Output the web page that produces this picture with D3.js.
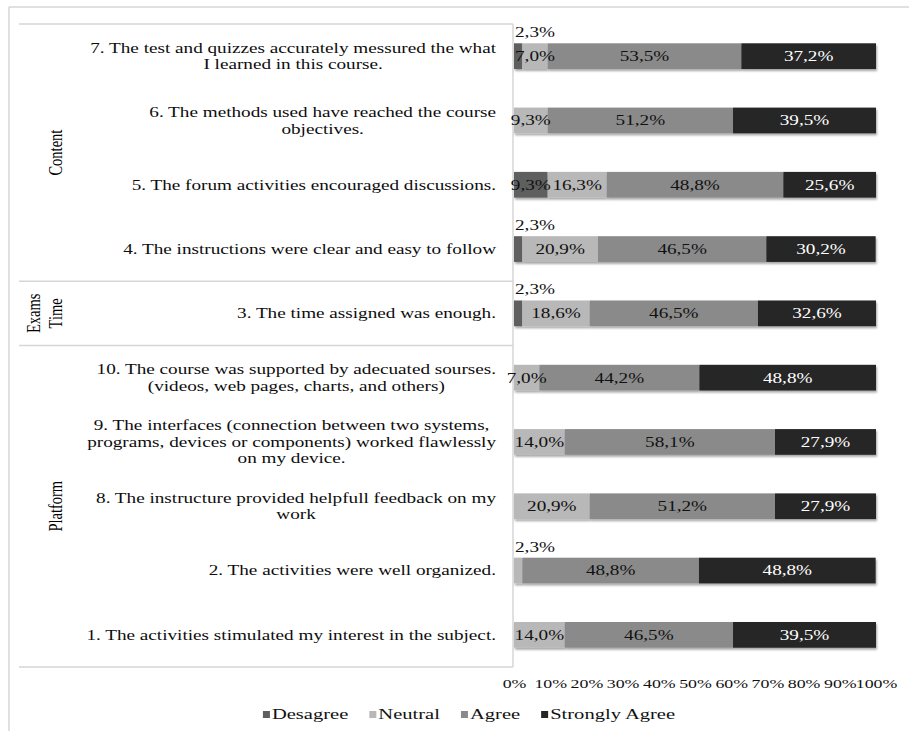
<!DOCTYPE html>
<html>
<head>
<meta charset="utf-8">
<script src="https://cdn.jsdelivr.net/npm/d3@7"></script>
<style>
    body { margin: 0; background: #fff; }
    svg { display: block; font-family: "Liberation Serif", "Times New Roman", serif; }
</style>
</head>
<body>
<div id="chart"></div>
<script>
// survey items, top to bottom as drawn (line breaks as in the original)
const questions = [
    ["7. The test and quizzes accurately messured the what", "I learned in this course."],
    ["6. The methods used have reached the course", "objectives."],
    ["5. The forum activities encouraged discussions."],
    ["4. The instructions were clear and easy to follow"],
    ["3. The time assigned was enough."],
    ["10. The course was supported by adecuated sourses.", "(videos, web pages, charts, and others)"],
    ["9. The interfaces (connection between two systems,", "programs, devices or components) worked flawlessly", "on my device."],
    ["8. The instructure provided helpfull feedback on my", "work"],
    ["2. The activities were well organized."],
    ["1. The activities stimulated my interest in the subject."]
];

// percentages per answer
const disagree      = [2.3, 0,    9.3,  2.3,  2.3,  0,    0,    0,    0,    0];
const neutral       = [7.0, 9.3,  16.3, 20.9, 18.6, 7.0,  14.0, 20.9, 2.3,  14.0];
const agree         = [53.5, 51.2, 48.8, 46.5, 46.5, 44.2, 58.1, 51.2, 48.8, 46.5];
const stronglyAgree = [37.2, 39.5, 25.6, 30.2, 32.6, 48.8, 27.9, 27.9, 48.8, 39.5];

const seriesNames  = ["Desagree", "Neutral", "Agree", "Strongly Agree"];
const seriesColors = ["#5e5e5e", "#b8b8b8", "#8a8a8a", "#262626"];

// row groups on the left
const groupNames = [["Content"], ["Exams", "Time"], ["Platform"]];
const groupSizes = [4, 1, 5];

const tickValues = [0, 10, 20, 30, 40, 50, 60, 70, 80, 90, 100];

const width = 909, height = 731;
const sx = 1.37; // the source picture is stretched sideways, text too

const svg = d3.select("#chart")
    .append("svg")
    .attr("width", width)
    .attr("height", height);

const defs = svg.append("defs");
defs.append("filter")
    .attr("id", "shadow")
    .attr("x", "-5%").attr("y", "-40%")
    .attr("width", "110%").attr("height", "200%")
    .append("feDropShadow")
    .attr("dx", 1).attr("dy", 2)
    .attr("stdDeviation", 1.3)
    .attr("flood-color", "#000")
    .attr("flood-opacity", 0.35);

// scales
const x = d3.scaleLinear().domain([0, 100]).range([514, 876]);
const y = d3.scaleBand()
    .domain(d3.range(questions.length))
    .range([24, 667])
    .paddingInner(0.6)
    .paddingOuter(0.3);

const rows = questions.map((q, i) => ({
    idx: i,
    "Desagree": disagree[i],
    "Neutral": neutral[i],
    "Agree": agree[i],
    "Strongly Agree": stronglyAgree[i]
}));

const stacked = d3.stack().keys(seriesNames)(rows);
const fmt = v => d3.format(".1f")(v).replace(".", ",") + "%";

// frame lines
const lineColor = "#d6d6d6";
svg.append("line").attr("x1", 9).attr("x2", 909).attr("y1", 7).attr("y2", 7)
    .attr("stroke", lineColor).attr("stroke-width", 1.5);
svg.append("line").attr("x1", 9).attr("x2", 9).attr("y1", 7).attr("y2", 731)
    .attr("stroke", lineColor).attr("stroke-width", 1.5);

const step = y.step();
let cum = [0];
groupSizes.forEach(s => cum.push(cum[cum.length - 1] + s));
cum.forEach(c => {
    const yy = 24 + step * c;
    svg.append("line").attr("x1", 19).attr("x2", 513).attr("y1", yy).attr("y2", yy)
        .attr("stroke", lineColor).attr("stroke-width", 1.5);
});
svg.append("line").attr("x1", 513).attr("x2", 513).attr("y1", 24).attr("y2", 667)
    .attr("stroke", lineColor).attr("stroke-width", 1.5);

// group labels (rotated)
groupNames.forEach((lines, gi) => {
    const cy = 24 + step * (cum[gi] + groupSizes[gi] / 2);
    lines.forEach((t, j) => {
        const cx = 55 - (lines.length - 1 - j) * 22;
        svg.append("text")
            .attr("transform", `translate(${cx},${cy}) scale(${sx},1) rotate(-90)`)
            .attr("text-anchor", "middle")
            .attr("dy", "0.35em")
            .attr("font-size", 14.5)
            .attr("fill", "#000")
            .text(t);
    });
});

// question labels
const lineH = 16.5;
questions.forEach((lines, i) => {
    const g = svg.append("g")
        .attr("transform", `translate(496,${y(i) + y.bandwidth() / 2}) scale(${sx},1)`);
    const texts = lines.map((t, j) => g.append("text")
        .attr("y", (j - (lines.length - 1) / 2) * lineH)
        .attr("dy", "0.35em")
        .attr("font-size", 14)
        .attr("fill", "#0d0d0d")
        .attr("text-anchor", "middle")
        .text(t));
    const maxW = d3.max(texts, t => t.node().getComputedTextLength());
    texts.forEach(t => t.attr("x", -maxW / 2));
});

// bars
const barG = svg.append("g").attr("filter", "url(#shadow)");
stacked.forEach((layer, si) => {
    barG.selectAll(null)
        .data(layer.filter(d => d[1] - d[0] > 0))
        .enter()
        .append("rect")
        .attr("x", d => x(d[0]))
        .attr("y", d => y(d.data.idx))
        .attr("width", d => x(d[1]) - x(d[0]))
        .attr("height", y.bandwidth())
        .attr("fill", seriesColors[si]);
});

// data labels
stacked.forEach((layer, si) => {
    layer.forEach(d => {
        const v = d[1] - d[0];
        if (v <= 0) return;
        const yc = y(d.data.idx) + y.bandwidth() / 2;
        let g, anchor;
        if (v < 5) {
            // tiny slices get their label above the bar
            g = svg.append("g").attr("transform", `translate(${x(d[0]) + 1},${y(d.data.idx) - 6}) scale(${sx},1)`);
            anchor = "start";
        } else {
            g = svg.append("g").attr("transform", `translate(${(x(d[0]) + x(d[1])) / 2},${yc}) scale(${sx},1)`);
            anchor = "middle";
        }
        g.append("text")
            .attr("text-anchor", anchor)
            .attr("dy", v < 5 ? 0 : "0.35em")
            .attr("font-size", 14)
            .attr("fill", (si === 3 && v >= 5) ? "#fff" : "#111")
            .text(fmt(v));
    });
});

// x axis (labels only)
const xAxis = svg.append("g")
    .attr("transform", "translate(0,667)")
    .call(d3.axisBottom(x).tickValues(tickValues).tickFormat(d => d + "%").tickSize(0).tickPadding(12));
xAxis.select(".domain").remove();
xAxis.selectAll("text")
    .attr("transform", `scale(${sx},1)`)
    .style("font-family", '"Liberation Serif", "Times New Roman", serif')
    .style("font-size", "13px")
    .attr("fill", "#111");

// legend
const legend = svg.append("g");
let lx = 0;
seriesNames.forEach((name, i) => {
    const it = legend.append("g");
    it.append("rect")
        .attr("x", 0).attr("y", -8)
        .attr("width", 7).attr("height", 7)
        .attr("fill", seriesColors[i]);
    const t = it.append("text")
        .attr("transform", `translate(9,0) scale(${sx},1)`)
        .attr("font-size", 15)
        .attr("fill", "#111")
        .text(name);
    const w = 9 + t.node().getComputedTextLength() * sx;
    it.attr("transform", `translate(${lx},0)`);
    lx += w + 21;
});
const totalW = lx - 21;
legend.attr("transform", `translate(${469 - totalW / 2},719)`);
</script>
</body>
</html>
